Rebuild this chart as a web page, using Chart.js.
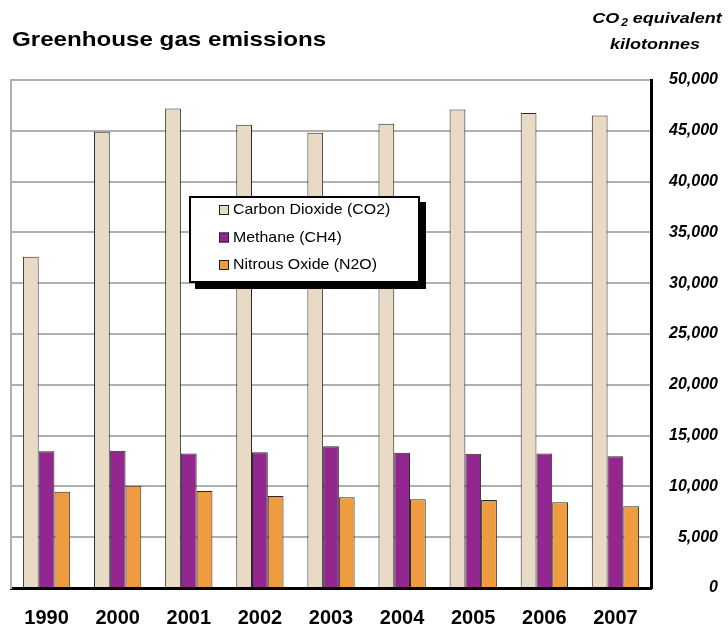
<!DOCTYPE html>
<html>
<head>
<meta charset="utf-8">
<script src="https://cdn.jsdelivr.net/npm/chart.js@4.4.1/dist/chart.umd.min.js"></script>
<style>
html,body{margin:0;padding:0;background:#fff;}
#wrap{width:728px;height:629px;position:relative;}
</style>
</head>
<body>
<div id="wrap"><canvas id="c" width="728" height="629"></canvas></div>
<script>
const years = ['1990','2000','2001','2002','2003','2004','2005','2006','2007'];
const co2 = [32600, 44900, 47200, 45600, 44800, 45700, 47100, 46750, 46500];
const ch4 = [13450, 13500, 13250, 13350, 13950, 13320, 13220, 13250, 12960];
const n2o = [9480, 10070, 9550, 9060, 8930, 8730, 8660, 8430, 8040];
const seriesNames = ['Carbon Dioxide (CO2)', 'Methane (CH4)', 'Nitrous Oxide (N2O)'];
const seriesColors = ['#E8DAC4', '#93278F', '#EF9C40'];
const chartTitle = 'Greenhouse gas emissions';
const axisTitleLine1 = ['CO', '2', ' equivalent'];
const axisTitleLine2 = 'kilotonnes';

function drawText(ctx, text, x, y, font, align, sx) {
  ctx.save();
  ctx.font = font;
  ctx.textBaseline = 'middle';
  ctx.fillStyle = '#000';
  const w = ctx.measureText(text).width * sx;
  let left = x;
  if (align === 'center') left = x - w / 2;
  else if (align === 'right') left = x - w;
  ctx.translate(left, y);
  ctx.scale(sx, 1);
  ctx.textAlign = 'left';
  ctx.fillText(text, 0, 0);
  ctx.restore();
  return w;
}

const decor = {
  id: 'decor',
  afterDraw(chart) {
    const ctx = chart.ctx;
    // Title
    drawText(ctx, chartTitle, 12, 40, 'bold 21px "Liberation Sans", Arial, sans-serif', 'left', 1.15);
    // Axis title line 1 with subscript
    ctx.save();
    const f1 = 'italic bold 15px "Liberation Sans", Arial, sans-serif';
    const f2 = 'italic bold 10px "Liberation Sans", Arial, sans-serif';
    const sx = 1.2;
    ctx.font = f1;
    const wA = ctx.measureText(axisTitleLine1[0]).width * sx;
    const wC = ctx.measureText(axisTitleLine1[2]).width * sx;
    ctx.font = f2;
    const wB = ctx.measureText(axisTitleLine1[1]).width * sx + 2;
    ctx.restore();
    const total = wA + wB + wC;
    let x0 = 657 - total / 2;
    drawText(ctx, axisTitleLine1[0], x0, 19, f1, 'left', sx);
    drawText(ctx, axisTitleLine1[1], x0 + wA + 2, 23, f2, 'left', sx);
    drawText(ctx, axisTitleLine1[2], x0 + wA + wB, 19, f1, 'left', sx);
    drawText(ctx, axisTitleLine2, 655, 45, f1, 'center', sx);

    // Legend box with shadow
    const bx = 189, by = 196, bw = 231, bh = 87;
    ctx.save();
    ctx.fillStyle = '#000';
    ctx.fillRect(bx + 6, by + 6, bw, bh);
    ctx.fillStyle = '#fff';
    ctx.fillRect(bx, by, bw, bh);
    ctx.lineWidth = 2;
    ctx.strokeStyle = '#000';
    ctx.strokeRect(bx + 1, by + 1, bw - 2, bh - 2);
    ctx.restore();
    const rows = [210, 237.5, 265];
    chart.data.datasets.forEach((ds, i) => {
      ctx.save();
      ctx.fillStyle = ds.backgroundColor;
      ctx.fillRect(219, rows[i] - 5, 10, 10);
      ctx.lineWidth = 1;
      ctx.strokeStyle = '#222';
      ctx.strokeRect(219.5, rows[i] - 4.5, 9, 9);
      ctx.restore();
      drawText(ctx, ds.label, 233, rows[i], '15px "Liberation Sans", Arial, sans-serif', 'left', 1.06);
    });
  }
};

const datasets = [co2, ch4, n2o].map((d, i) => ({
  label: seriesNames[i],
  data: d,
  backgroundColor: seriesColors[i],
  borderColor: '#2a2a2a',
  borderWidth: 1,
  categoryPercentage: 0.665,
  barPercentage: 1.0,
  yAxisID: 'y'
}));

new Chart(document.getElementById('c'), {
  type: 'bar',
  data: { labels: years, datasets },
  options: {
    responsive: false,
    animation: false,
    devicePixelRatio: 1,
    layout: { padding: { left: 11, top: 80, right: 10, bottom: 0 } },
    plugins: { legend: { display: false }, title: { display: false }, tooltip: { enabled: false } },
    scales: {
      x: {
        grid: { display: false, drawTicks: false },
        border: { display: true, color: '#000', width: 3 },
        ticks: {
          color: '#000',
          padding: 18,
          font: { family: '"Liberation Sans", Arial, sans-serif', size: 20, weight: 'bold' }
        },
        afterFit(s) { s.height = 41; }
      },
      y: {
        position: 'right',
        min: 0, max: 50000,
        grid: { color: '#b0b0b0', lineWidth: 2, drawTicks: false },
        border: { display: true, color: '#000', width: 3 },
        ticks: {
          stepSize: 5000,
          color: '#000',
          crossAlign: 'far',
          padding: 8,
          font: { family: '"Liberation Sans", Arial, sans-serif', size: 16, weight: 'bold', style: 'italic' },
          callback: v => v.toLocaleString('en-US')
        },
        afterFit(s) { s.width = 67; }
      },
      yl: {
        position: 'left',
        min: 0, max: 50000,
        grid: { display: false, drawTicks: false },
        border: { display: true, color: '#b0b0b0', width: 2 },
        ticks: { display: false },
        afterFit(s) { s.width = 0; }
      }
    }
  },
  plugins: [decor]
});
</script>
</body>
</html>
